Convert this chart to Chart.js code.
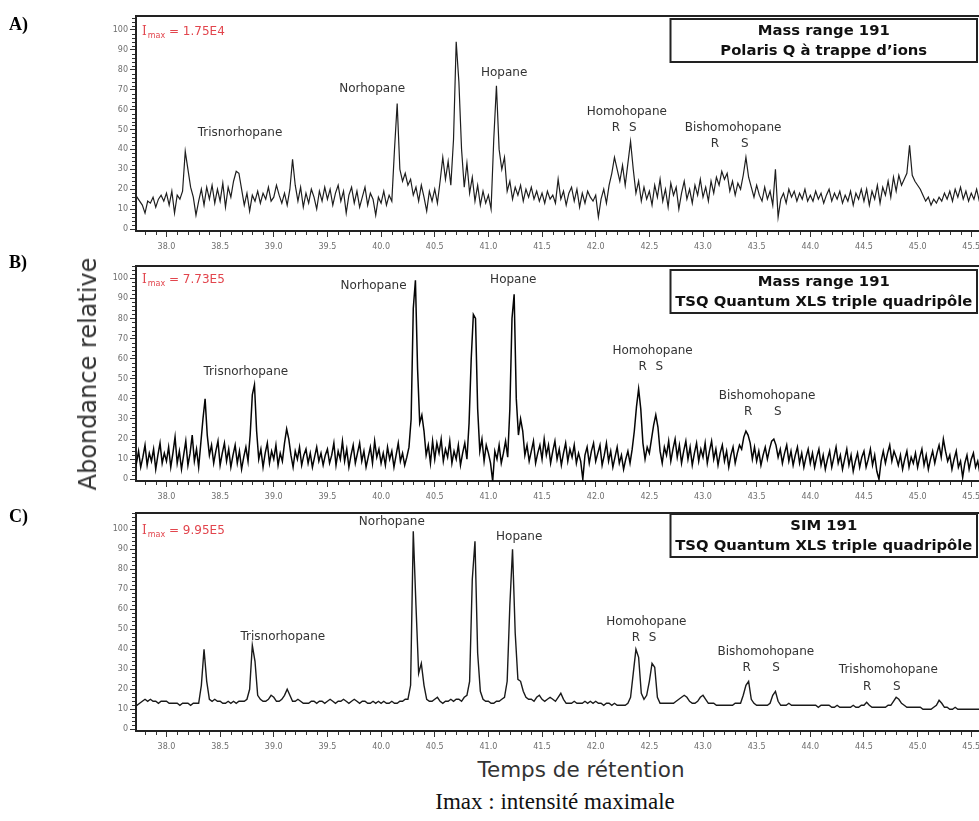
<!DOCTYPE html>
<html><head><meta charset="utf-8">
<script src="https://cdn.jsdelivr.net/npm/chart.js@4.4.1/dist/chart.umd.min.js"></script>
<style>
html,body{margin:0;padding:0;background:#fff;}
body{width:979px;height:821px;overflow:hidden;position:relative;}
canvas{position:absolute;left:0;}
.tx{position:absolute;white-space:nowrap;line-height:1;}
</style></head><body>
<canvas id="cA" width="1000" height="250" style="top:0px"></canvas>
<canvas id="cB" width="1000" height="250" style="top:250px"></canvas>
<canvas id="cC" width="1000" height="250" style="top:500px"></canvas>
<div class="tx" style="left:9px;top:14px;font:bold 18px 'Liberation Serif';">A)</div>
<div class="tx" style="left:9px;top:252px;font:bold 18px 'Liberation Serif';">B)</div>
<div class="tx" style="left:9px;top:506px;font:bold 18px 'Liberation Serif';">C)</div>
<div class="tx" style="left:88px;top:374px;font:24px 'DejaVu Sans';color:#333;transform:translate(-50%,-50%) rotate(-90deg);">Abondance relative</div>
<div class="tx" style="left:581px;top:757px;font:21.5px 'DejaVu Sans';color:#333;transform:translateX(-50%);">Temps de rétention</div>
<div class="tx" style="left:555px;top:789px;font:23px 'Liberation Serif';color:#111;transform:translateX(-50%);">Imax : intensité maximale</div>
<script>
// ---------- data (retention time grid start/step + relative abundance values) ----------
const startA = 37.70, stepA = 0.025;
const valuesA = [
15,16,14,12,8,14,13,16,11,15,17,14,
18,12,19,8,17,15,19,39,30,21,16,7,14,20,12,21,15,22,13,20,
14,23,11,21,16,24,29,28,20,12,18,9,17,14,19,13,18,15,21,14,
16,22,17,13,18,12,20,35,22,14,21,11,18,13,20,16,10,19,14,21,
15,20,12,18,22,14,19,8,17,21,13,19,11,16,21,12,18,15,7,16,
13,19,12,17,14,40,63,30,24,28,22,25,17,21,14,22,16,9,19,14,
20,13,24,36,25,34,22,45,94,74,40,21,33,18,26,14,22,12,19,13,
17,10,45,72,40,30,36,19,24,15,21,17,22,14,20,16,21,15,19,14,
18,13,19,15,17,13,25,15,19,12,18,21,14,20,11,18,13,19,16,14,
17,6,15,20,13,22,28,36,30,24,32,22,33,44,30,18,24,14,21,15,
19,12,22,16,25,14,20,11,23,17,21,10,18,24,15,20,13,22,17,25,
16,21,14,24,18,26,22,29,25,28,19,24,17,23,20,27,36,26,21,16,
22,17,14,21,15,19,12,30,6,15,18,13,20,16,19,14,18,15,20,14,
17,14,19,15,18,13,17,20,14,18,15,19,13,17,14,19,12,18,15,20,
14,20,12,19,15,22,13,21,17,24,16,26,19,27,22,25,28,42,27,24,
22,20,17,14,16,12,15,13,16,14,18,15,19,14,20,16,21,15,19,14,18,15,20,14,17,15,16
];
const startB = 37.70, stepB = 0.02;
const valuesB = [
12,8,14,6,11,17,7,13,9,15,5,12,18,8,13,
9,16,6,13,21,8,14,5,12,19,7,13,22,9,15,6,18,30,40,22,12,17,8,14,19,
7,13,18,9,15,6,12,17,8,14,5,11,16,9,22,42,47,24,10,15,6,13,18,8,14,
10,17,7,13,9,18,25,20,12,6,14,10,16,7,12,15,8,13,6,11,16,9,13,7,12,
15,8,12,18,7,14,10,19,9,15,6,12,17,8,13,18,9,14,6,11,16,8,19,11,15,
8,13,7,16,10,14,6,12,18,9,13,7,11,16,30,85,99,55,28,32,24,12,17,8,19,
10,18,13,20,9,15,11,19,8,14,10,17,7,13,18,10,28,60,82,80,35,14,20,9,17,
13,8,-1,14,10,17,8,13,19,11,35,80,92,40,22,30,24,12,17,9,14,19,8,13,17,
10,20,12,17,8,14,19,10,15,7,13,18,9,15,11,17,8,13,9,0,12,16,8,14,18,
9,13,17,7,12,18,9,14,6,11,16,8,12,5,10,14,8,15,24,36,45,35,18,10,16,
13,20,27,32,26,14,8,16,12,19,9,15,20,11,17,8,14,19,10,16,7,13,18,9,15,
11,18,8,14,19,10,15,7,13,17,9,14,6,12,16,8,13,17,15,21,24,22,18,10,16,
9,14,7,12,16,10,15,19,20,17,11,15,8,13,17,9,14,7,12,16,8,13,6,11,15,
8,13,6,11,15,7,12,5,10,14,6,11,16,8,12,5,10,15,7,12,4,9,13,6,11,
14,6,10,15,7,12,4,0,9,14,8,13,17,9,14,11,7,12,5,10,14,6,11,8,13,
6,11,15,7,12,5,10,14,8,13,17,11,20,14,9,12,5,10,14,6,9,1,8,12,5,10,13,6,9,3,10,7,11
];
const startC = 37.70, stepC = 0.025;
const valuesC = [
12,12,13,14,15,14,15,14,14,13,14,14,
14,13,13,13,13,12,13,13,13,12,13,13,13,22,40,24,15,14,15,14,
14,13,13,14,13,14,13,14,14,14,15,20,42,34,17,15,14,14,15,17,
16,14,14,15,17,20,17,14,14,15,14,13,13,13,14,14,13,14,14,13,
14,15,14,13,14,14,15,14,13,14,15,14,13,14,14,13,13,14,13,14,
13,14,13,13,14,13,13,14,14,15,15,22,99,62,28,33,22,15,14,14,
15,16,14,13,14,14,15,14,15,15,14,16,17,24,75,94,38,19,15,14,
14,13,13,14,14,15,16,24,62,90,48,25,24,19,16,15,15,14,16,17,
15,14,15,16,15,14,16,18,15,13,13,13,14,13,13,13,14,13,14,13,
14,13,13,12,13,13,12,13,12,12,12,12,13,16,28,40,36,18,15,17,
24,33,31,16,13,13,13,13,13,13,14,15,16,17,16,14,13,13,14,16,
17,15,13,13,13,12,12,12,12,12,12,12,13,13,13,17,22,24,15,13,
12,12,12,12,12,13,17,19,14,12,12,12,13,12,12,12,12,12,12,12,
12,12,12,11,12,12,12,12,11,11,12,11,11,11,11,11,12,11,11,12,
12,13.5,12,11,11,11,11,11,11,12,12,14,16,15,13,12,11,11,11,11,
11,11,10,10,10,10,11,12,14.5,13,11,11,10,10,11,10,10,10,10,10,10,10,10,10,10,10,10
];
const xTickValues = [38.0,38.5,39.0,39.5,40.0,40.5,41.0,41.5,42.0,42.5,43.0,43.5,44.0,44.5,45.0,45.5];
const xTickLabels = ['38.0','38.5','39.0','39.5','40.0','40.5','41.0','41.5','42.0','42.5','43.0','43.5','44.0','44.5','45.0','45.5'];
const yTickValues = [0,10,20,30,40,50,60,70,80,90,100];
const yTickLabels = ['0','10','20','30','40','50','60','70','80','90','100'];
const imaxA = '1.75E4', imaxB = '7.73E5', imaxC = '9.95E5';
const titleA = ['Mass range 191','Polaris Q à trappe d’ions'];
const titleB = ['Mass range 191','TSQ Quantum XLS triple quadripôle'];
const titleC = ['SIM 191','TSQ Quantum XLS triple quadripôle'];
// peak names: [text, retention time, abundance]
const peaksA = [['Trisnorhopane',38.685,48.2],['Norhopane',39.917,70.4],['Hopane',41.147,78.5],
 ['Homohopane',42.29,58.8],['R',42.189,50.8],['S',42.345,50.8],
 ['Bishomohopane',43.28,50.8],['R',43.11,42.7],['S',43.39,42.7]];
const peaksB = [['Trisnorhopane',38.74,53.5],['Norhopane',39.93,96.2],['Hopane',41.232,99.2],
 ['Homohopane',42.53,64.0],['R',42.438,55.7],['S',42.593,55.7],
 ['Bishomohopane',43.597,41.6],['R',43.422,33.6],['S',43.696,33.6]];
const peaksC = [['Trisnorhopane',39.084,46.3],['Norhopane',40.10,103.8],['Hopane',41.287,96.3],
 ['Homohopane',42.472,53.8],['R',42.376,45.5],['S',42.531,45.5],
 ['Bishomohopane',43.585,38.8],['R',43.407,30.5],['S',43.68,30.5],
 ['Trishomohopane',44.727,29.6],['R',44.531,21.3],['S',44.805,21.3]];

// ---------- layout ----------
const xMin = 37.716, xMax = 45.628;
const panels = [
 {id:'cA', start:startA, step:stepA, values:valuesA, imax:imaxA, title:titleA, peaks:peaksA, areaTop:16, yMin:-1, yMax:107, boxTop:19, lw:1.2, color:'#1e1e1e'},
 {id:'cB', start:startB, step:stepB, values:valuesB, imax:imaxB, title:titleB, peaks:peaksB, areaTop:16, yMin:-0.85, yMax:106.1, boxTop:20, lw:1.5, color:'#050505'},
 {id:'cC', start:startC, step:stepC, values:valuesC, imax:imaxC, title:titleC, peaks:peaksC, areaTop:13, yMin:-0.85, yMax:108.15, boxTop:14, lw:1.4, color:'#1a1a1a'}
];

function toPoints(start, step, vals){
  return vals.map((v,i)=>({x:+(start+i*step).toFixed(3), y:v}));
}

function decoPlugin(p){
  return {
    id:'deco',
    afterDraw(chart){
      const ctx=chart.ctx, a=chart.chartArea, xs=chart.scales.x, ys=chart.scales.y;
      ctx.save();
      ctx.strokeStyle='#222'; ctx.lineWidth=2;
      ctx.beginPath(); ctx.moveTo(a.left-1,a.top); ctx.lineTo(a.right,a.top); ctx.stroke();
      ctx.lineWidth=1; ctx.strokeStyle='#333';
      ctx.beginPath();
      for(let k=378;k<=456;k++){
        if(k%5===0) continue;
        const px=Math.round(xs.getPixelForValue(k/10))+0.5;
        ctx.moveTo(px,a.bottom+1); ctx.lineTo(px,a.bottom+4);
      }
      for(let v=2; v<ys.max; v+=2){
        if(v%10===0) continue;
        const py=Math.round(ys.getPixelForValue(v))+0.5;
        ctx.moveTo(a.left-4,py); ctx.lineTo(a.left-1,py);
      }
      ctx.stroke();
      ctx.fillStyle='#e2454d'; ctx.textAlign='left'; ctx.textBaseline='middle';
      const ix=a.left+6, iy=ys.getPixelForValue(100)+2;
      ctx.font='12px "DejaVu Serif"'; ctx.fillText('I',ix,iy);
      const w1=ctx.measureText('I').width;
      ctx.font='8px "DejaVu Sans"'; ctx.fillText('max',ix+w1+1,iy+4);
      const w2=ctx.measureText('max').width;
      ctx.font='12px "DejaVu Sans"'; ctx.fillText(' = '+p.imax,ix+w1+1+w2,iy);
      ctx.fillStyle='#333'; ctx.font='12px "DejaVu Sans"'; ctx.textAlign='center';
      p.peaks.forEach(([t,x,v])=>ctx.fillText(t, xs.getPixelForValue(x), ys.getPixelForValue(v)));
      const bx0=670.5, bx1=977, by0=p.boxTop, bh=43;
      ctx.fillStyle='#fff'; ctx.fillRect(bx0,by0,bx1-bx0,bh);
      ctx.strokeStyle='#222'; ctx.lineWidth=2; ctx.strokeRect(bx0,by0,bx1-bx0,bh);
      ctx.fillStyle='#111'; ctx.font='bold 14.8px "DejaVu Sans"';
      ctx.fillText(p.title[0],(bx0+bx1)/2,by0+12);
      ctx.fillText(p.title[1],(bx0+bx1)/2,by0+32);
      ctx.restore();
    }
  };
}

panels.forEach(p=>{
  new Chart(document.getElementById(p.id), {
    type:'line',
    data:{datasets:[{data:toPoints(p.start,p.step,p.values), borderColor:p.color, borderWidth:p.lw,
      pointRadius:0, tension:0, fill:false}]},
    options:{
      responsive:false, animation:false, events:[],
      layout:{padding:{left:0, top:p.areaTop, right:15, bottom:0}},
      plugins:{legend:{display:false}, tooltip:{enabled:false}},
      scales:{
        x:{type:'linear', min:xMin, max:xMax,
          afterBuildTicks:s=>{s.ticks=xTickValues.map(v=>({value:v}));},
          afterFit:s=>{s.height=19;},
          ticks:{autoSkip:false, maxRotation:0, padding:5, color:'#6e6e6e',
            font:{family:'DejaVu Sans', size:8}, callback:(v,i)=>xTickLabels[i]},
          grid:{drawOnChartArea:false, drawTicks:true, tickLength:6, tickColor:'#333', tickWidth:1},
          border:{display:true, color:'#222', width:2}},
        y:{type:'linear', min:p.yMin, max:p.yMax,
          afterBuildTicks:s=>{s.ticks=yTickValues.map(v=>({value:v}));},
          afterFit:s=>{s.width=136;},
          ticks:{autoSkip:false, padding:2, color:'#6e6e6e',
            font:{family:'DejaVu Sans', size:8}, callback:(v,i)=>yTickLabels[i]},
          grid:{drawOnChartArea:false, drawTicks:true, tickLength:6, tickColor:'#333', tickWidth:1},
          border:{display:true, color:'#222', width:2}}
      }
    },
    plugins:[decoPlugin(p)]
  });
});
</script>
</body></html>
